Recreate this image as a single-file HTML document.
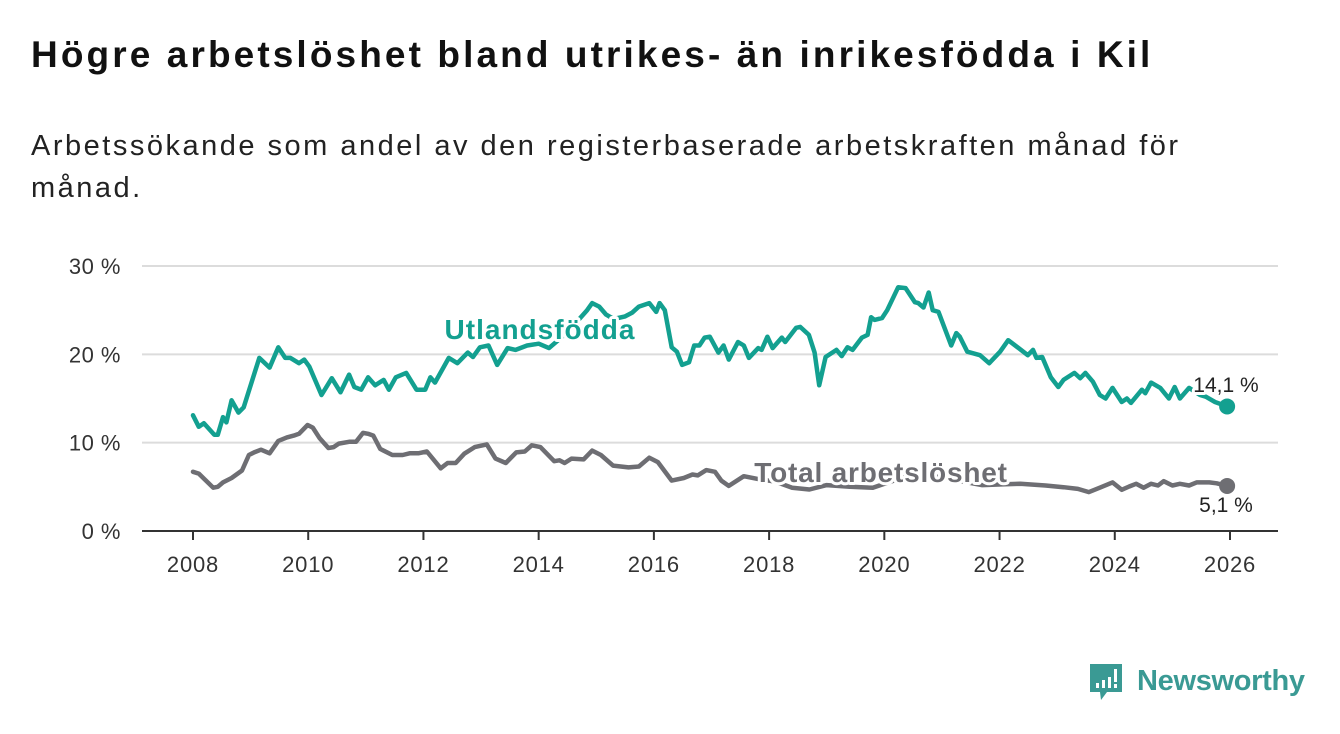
<!DOCTYPE html>
<html><head><meta charset="utf-8">
<style>
body{margin:0;background:#fff;width:1340px;height:734px;overflow:hidden;font-family:"Liberation Sans",sans-serif}
#title{position:absolute;left:31px;top:34px;font-size:37px;font-weight:bold;color:#111;margin:0;letter-spacing:3.1px;white-space:nowrap}
#sub{position:absolute;left:31px;top:125px;font-size:29px;color:#222;line-height:42px;width:1250px;margin:0;letter-spacing:2.5px}
svg{position:absolute;left:0;top:0}
</style></head><body>
<h1 id="title">Högre arbetslöshet bland utrikes- än inrikesfödda i Kil</h1>
<p id="sub">Arbetssökande som andel av den registerbaserade arbetskraften månad för<br>månad.</p>
<svg id="chart" width="1340" height="734"></svg>
<script>
const yTicks=[0,10,20,30];
const yTickLabels=["0 %","10 %","20 %","30 %"];
const xTicks=[2008,2010,2012,2014,2016,2018,2020,2022,2024,2026];
const foreignDates=[2008.0,2008.1,2008.19,2008.37,2008.43,2008.52,2008.58,2008.67,2008.79,2008.88,2009.15,2009.33,2009.48,2009.6,2009.69,2009.84,2009.93,2010.02,2010.23,2010.41,2010.56,2010.71,2010.8,2010.92,2011.04,2011.16,2011.31,2011.4,2011.52,2011.7,2011.88,2012.03,2012.12,2012.2,2012.44,2012.59,2012.77,2012.86,2012.98,2013.13,2013.28,2013.46,2013.6,2013.8,2014.0,2014.18,2014.5,2014.84,2014.93,2015.05,2015.17,2015.3,2015.5,2015.62,2015.74,2015.92,2016.04,2016.1,2016.19,2016.31,2016.4,2016.49,2016.61,2016.7,2016.79,2016.88,2016.97,2017.12,2017.21,2017.3,2017.46,2017.56,2017.65,2017.81,2017.87,2017.97,2018.06,2018.22,2018.28,2018.47,2018.54,2018.69,2018.79,2018.87,2018.98,2019.17,2019.26,2019.36,2019.45,2019.61,2019.71,2019.77,2019.83,2019.96,2020.05,2020.24,2020.37,2020.53,2020.59,2020.68,2020.77,2020.84,2020.94,2021.16,2021.25,2021.31,2021.44,2021.66,2021.82,2022.01,2022.15,2022.33,2022.49,2022.58,2022.64,2022.74,2022.89,2023.02,2023.11,2023.3,2023.4,2023.49,2023.62,2023.74,2023.84,2023.96,2024.12,2024.21,2024.28,2024.47,2024.53,2024.63,2024.79,2024.94,2025.04,2025.13,2025.29,2025.48,2025.58,2025.74,2025.95];
const foreignValues=[13.1,11.8,12.2,10.9,10.9,12.9,12.3,14.8,13.4,14.0,19.6,18.5,20.8,19.6,19.6,19.0,19.4,18.6,15.4,17.3,15.7,17.7,16.3,16.0,17.4,16.5,17.1,16.0,17.4,17.9,16.0,16.0,17.4,16.8,19.6,19.0,20.2,19.7,20.8,21.0,18.8,20.7,20.5,21.0,21.2,20.7,22.5,25.0,25.8,25.4,24.5,24.0,24.3,24.7,25.4,25.8,24.8,25.8,25.0,20.8,20.3,18.8,19.1,21.0,21.0,21.9,22.0,20.2,21.0,19.4,21.4,21.0,19.6,20.7,20.5,22.0,20.7,21.9,21.4,23.0,23.1,22.2,20.2,16.5,19.7,20.5,19.8,20.8,20.5,21.9,22.2,24.2,23.9,24.1,25.0,27.6,27.5,25.9,25.8,25.3,27.0,25.0,24.8,21.0,22.4,22.0,20.3,19.9,19.0,20.3,21.6,20.7,19.9,20.5,19.6,19.7,17.4,16.3,17.1,17.9,17.3,17.9,16.9,15.4,15.0,16.2,14.6,15.0,14.5,16.0,15.6,16.8,16.2,15.0,16.3,15.0,16.2,15.4,15.2,14.6,14.1];
const totalDates=[2008.0,2008.1,2008.35,2008.43,2008.52,2008.67,2008.85,2008.97,2009.06,2009.18,2009.33,2009.48,2009.63,2009.75,2009.84,2009.99,2010.08,2010.2,2010.35,2010.44,2010.53,2010.71,2010.83,2010.95,2011.04,2011.13,2011.25,2011.46,2011.64,2011.76,2011.91,2012.06,2012.3,2012.42,2012.56,2012.71,2012.89,2013.1,2013.25,2013.43,2013.61,2013.76,2013.88,2014.03,2014.27,2014.36,2014.45,2014.57,2014.78,2014.93,2015.08,2015.29,2015.56,2015.74,2015.92,2016.07,2016.31,2016.52,2016.67,2016.76,2016.91,2017.06,2017.17,2017.3,2017.56,2017.8,2018.1,2018.4,2018.7,2019.0,2019.4,2019.8,2020.3,2020.8,2021.2,2021.7,2022.1,2022.36,2022.8,2023.11,2023.36,2023.55,2023.74,2023.96,2024.12,2024.25,2024.37,2024.5,2024.63,2024.75,2024.85,2025.0,2025.13,2025.29,2025.42,2025.64,2025.77,2025.95];
const totalValues=[6.7,6.5,4.9,5.0,5.5,6.0,6.85,8.6,8.9,9.2,8.8,10.2,10.6,10.8,11.0,12.0,11.7,10.5,9.4,9.5,9.9,10.1,10.1,11.1,11.0,10.8,9.3,8.6,8.6,8.8,8.8,9.0,7.1,7.7,7.7,8.75,9.5,9.8,8.2,7.7,8.9,9.0,9.7,9.5,7.9,8.0,7.7,8.2,8.1,9.1,8.6,7.4,7.2,7.3,8.3,7.8,5.7,6.0,6.4,6.3,6.9,6.7,5.7,5.1,6.2,5.9,5.6,4.9,4.7,5.2,5.0,4.9,6.0,6.3,5.8,5.2,5.3,5.34,5.15,4.96,4.77,4.4,4.9,5.5,4.66,5.04,5.34,4.9,5.34,5.15,5.64,5.15,5.34,5.15,5.5,5.5,5.4,5.1];

const NS='http://www.w3.org/2000/svg';
const svg=document.getElementById('chart');
const L=142,R=1278,X0=2008,X1=2026,PX0=193,PX1=1230,Y0=531,Y30=266;
const xs=v=>PX0+(v-X0)*(PX1-PX0)/(X1-X0);
const ys=v=>Y0+(v)*(Y30-Y0)/30;
function mk(tag,attrs){const e=document.createElementNS(NS,tag);for(const k in attrs)e.setAttribute(k,attrs[k]);svg.appendChild(e);return e;}
yTicks.forEach((t,i)=>{
  if(t>0){const g=mk('line',{x1:L,x2:R,y1:ys(t),y2:ys(t),stroke:'#dcdcdc','stroke-width':2});
  
  }
  const tx=mk('text',{x:121,y:ys(t)+8,'text-anchor':'end','font-size':22,fill:'#333','font-family':'Liberation Sans, sans-serif','letter-spacing':'0.5'});
  tx.textContent=yTickLabels[i];
  
  
});
const ax=mk('line',{x1:L,x2:R,y1:Y0,y2:Y0,stroke:'#333','stroke-width':2});


xTicks.forEach(t=>{
  const tk=mk('line',{x1:xs(t),x2:xs(t),y1:Y0,y2:Y0+9,stroke:'#333','stroke-width':2});
  
  
  const tx=mk('text',{x:xs(t),y:572,'text-anchor':'middle','font-size':22,fill:'#333','font-family':'Liberation Sans, sans-serif','letter-spacing':'0.8'});
  tx.textContent=t;
  
  
});
function line(dates,vals,color,name){
  const d=dates.map((t,i)=>(i?'L':'M')+xs(t).toFixed(1)+','+ys(vals[i]).toFixed(1)).join('');
  const p=mk('path',{d:d,fill:'none',stroke:color,'stroke-width':4.5,'stroke-linejoin':'round','stroke-linecap':'round'});
  
  
  const n=dates.length-1;
  const c=mk('circle',{cx:xs(dates[n]),cy:ys(vals[n]),r:8,fill:color});
  
  
}
line(totalDates,totalValues,'#6e6e73','total');
line(foreignDates,foreignValues,'#13a090','foreign');
function lbl(x,y,txt,color,size,weight,anchor,name,ls){
  const t=mk('text',{x:x,y:y,'text-anchor':anchor,'font-size':size,'font-weight':weight,fill:color,stroke:'#fff','stroke-width':6,'paint-order':'stroke','stroke-linejoin':'round','font-family':'Liberation Sans, sans-serif','letter-spacing':ls});
  t.textContent=txt;
  
  
}
lbl(540,339,'Utlandsfödda','#13a090',28,'bold','middle','foreign-series-label','1');
lbl(881,482,'Total arbetslöshet','#6e6e73',28,'bold','middle','total-series-label','0.8');
lbl(1226,392,'14,1 %','#222',21,'normal','middle','foreign-end-value','0');
lbl(1226,512,'5,1 %','#222',21,'normal','middle','total-end-value','0');
</script>
<svg width="1340" height="734" style="pointer-events:none">
  <path d="M1090 664 h32 v28 h-15 l-6 8 l-1 -8 h-10 z" fill="#3a9a94"/>
  <rect x="1096" y="683" width="3" height="5" fill="#fff"/><rect x="1102" y="680" width="3" height="8" fill="#fff"/><rect x="1108" y="677" width="3" height="11" fill="#fff"/><rect x="1114" y="669" width="3" height="13" fill="#fff"/><rect x="1114" y="684" width="3" height="4" fill="#fff"/>
  <text x="1137" y="690" font-size="29" font-weight="bold" fill="#3a9a94" font-family="Liberation Sans, sans-serif" textLength="168">Newsworthy</text>
</svg>
</body></html>
